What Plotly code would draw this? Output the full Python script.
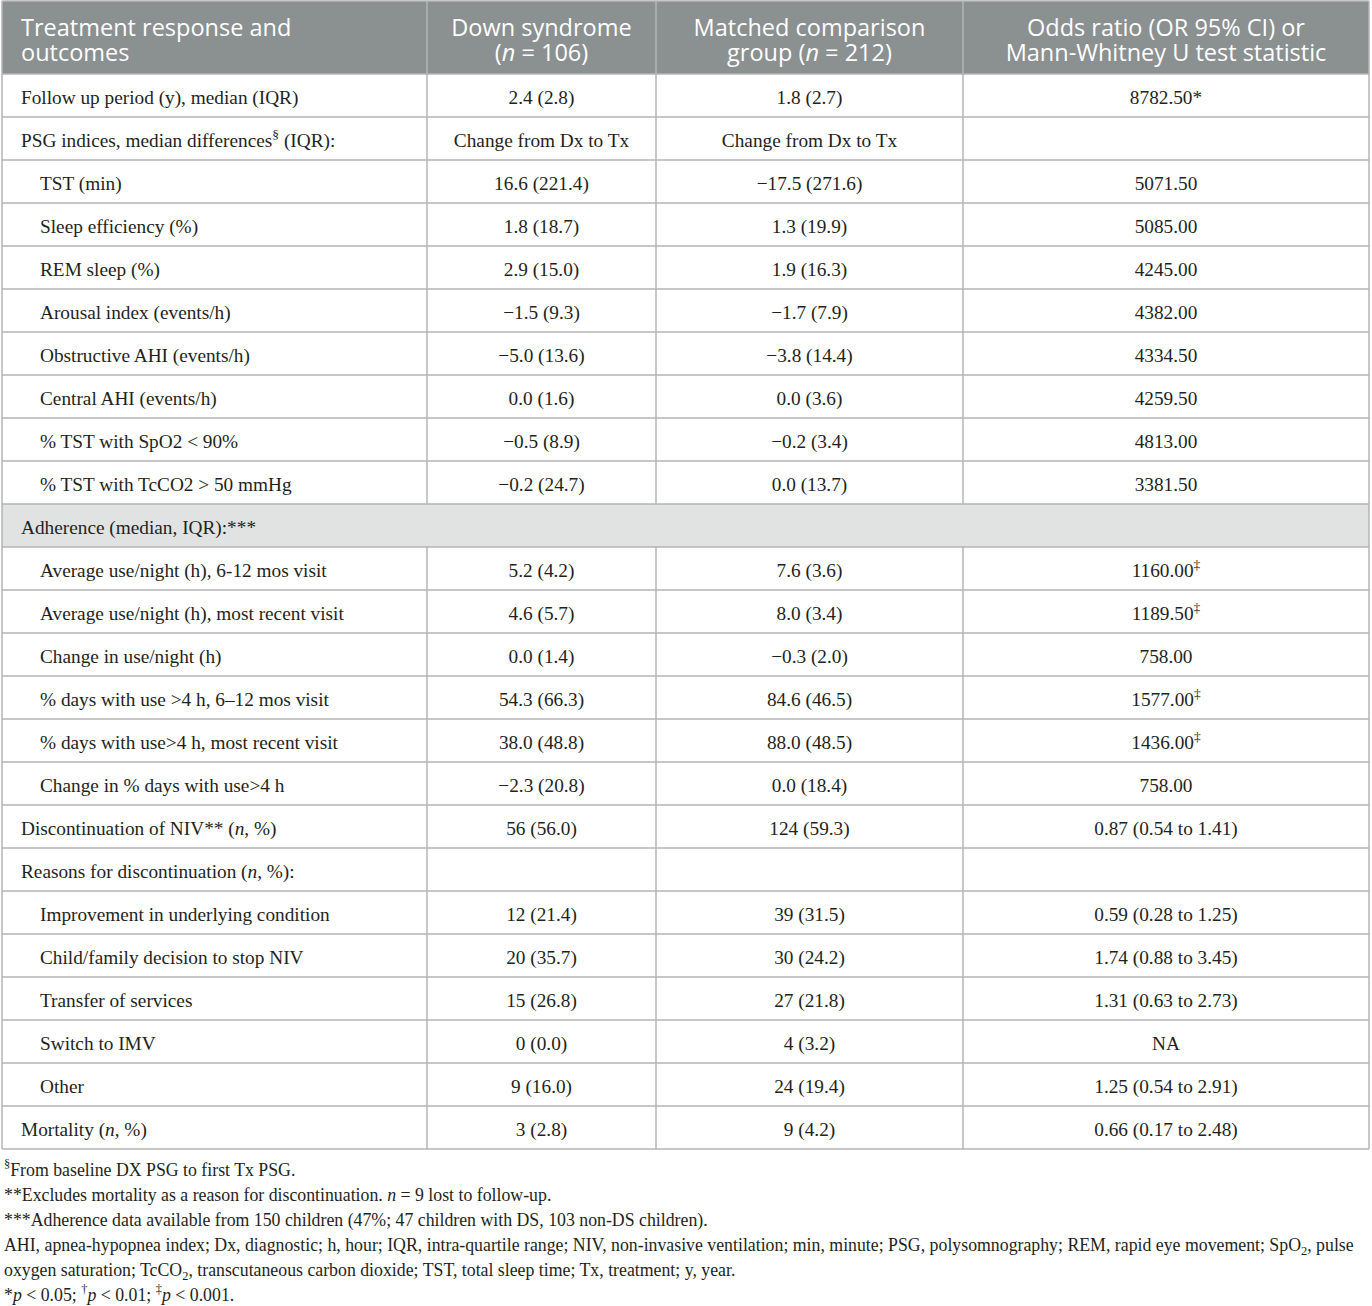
import plotly.graph_objects as go

# table content
headers = ["Treatment response and<br>outcomes",
           "Down syndrome<br>(<i>n</i> = 106)",
           "Matched comparison<br>group (<i>n</i> = 212)",
           "Odds ratio (OR 95% CI) or<br>Mann-Whitney U test statistic"]

labels = ["Follow up period (y), median (IQR)",
          "PSG indices, median differences<sup>§</sup> (IQR):",
          "TST (min)",
          "Sleep efficiency (%)",
          "REM sleep (%)",
          "Arousal index (events/h)",
          "Obstructive AHI (events/h)",
          "Central AHI (events/h)",
          "% TST with SpO2 < 90%",
          "% TST with TcCO2 > 50 mmHg",
          "Adherence (median, IQR):***",
          "Average use/night (h), 6-12 mos visit",
          "Average use/night (h), most recent visit",
          "Change in use/night (h)",
          "% days with use >4 h, 6–12 mos visit",
          "% days with use>4 h, most recent visit",
          "Change in % days with use>4 h",
          "Discontinuation of NIV** (<i>n</i>, %)",
          "Reasons for discontinuation (<i>n</i>, %):",
          "Improvement in underlying condition",
          "Child/family decision to stop NIV",
          "Transfer of services",
          "Switch to IMV",
          "Other",
          "Mortality (<i>n</i>, %)"]

levels = [0, 0, 1, 1, 1, 1, 1, 1, 1, 1, 0, 1, 1, 1, 1, 1, 1, 0, 0, 1, 1, 1, 1, 1, 0]

down_syndrome = ["2.4 (2.8)", "Change from Dx to Tx", "16.6 (221.4)", "1.8 (18.7)",
                 "2.9 (15.0)", "−1.5 (9.3)", "−5.0 (13.6)", "0.0 (1.6)",
                 "−0.5 (8.9)", "−0.2 (24.7)", "", "5.2 (4.2)", "4.6 (5.7)",
                 "0.0 (1.4)", "54.3 (66.3)", "38.0 (48.8)", "−2.3 (20.8)",
                 "56 (56.0)", "", "12 (21.4)", "20 (35.7)", "15 (26.8)",
                 "0 (0.0)", "9 (16.0)", "3 (2.8)"]

comparison = ["1.8 (2.7)", "Change from Dx to Tx", "−17.5 (271.6)", "1.3 (19.9)",
              "1.9 (16.3)", "−1.7 (7.9)", "−3.8 (14.4)", "0.0 (3.6)",
              "−0.2 (3.4)", "0.0 (13.7)", "", "7.6 (3.6)", "8.0 (3.4)",
              "−0.3 (2.0)", "84.6 (46.5)", "88.0 (48.5)", "0.0 (18.4)",
              "124 (59.3)", "", "39 (31.5)", "30 (24.2)", "27 (21.8)",
              "4 (3.2)", "24 (19.4)", "9 (4.2)"]

statistic = ["8782.50*", "", "5071.50", "5085.00", "4245.00", "4382.00",
             "4334.50", "4259.50", "4813.00", "3381.50", "",
             "1160.00<sup>‡</sup>", "1189.50<sup>‡</sup>", "758.00",
             "1577.00<sup>‡</sup>", "1436.00<sup>‡</sup>", "758.00",
             "0.87 (0.54 to 1.41)", "", "0.59 (0.28 to 1.25)", "1.74 (0.88 to 3.45)",
             "1.31 (0.63 to 2.73)", "NA", "1.25 (0.54 to 2.91)", "0.66 (0.17 to 2.48)"]

section_rows = [10]

footnotes = ["<sup>§</sup>From baseline DX PSG to first Tx PSG.",
             "**Excludes mortality as a reason for discontinuation. <i>n</i> = 9 lost to follow-up.",
             "***Adherence data available from 150 children (47%; 47 children with DS, 103 non-DS children).",
             "AHI, apnea-hypopnea index; Dx, diagnostic; h, hour; IQR, intra-quartile range; NIV, non-invasive ventilation; min, minute; PSG, polysomnography; REM, rapid eye movement; SpO<sub>2</sub>, pulse",
             "oxygen saturation; TcCO<sub>2</sub>, transcutaneous carbon dioxide; TST, total sleep time; Tx, treatment; y, year.",
             "*<i>p</i> < 0.05; <sup>†</sup><i>p</i> < 0.01; <sup>‡</sup><i>p</i> < 0.001."]

# layout (pixels)
W, H = 1372, 1306
HEADER_H = 74
HEADER_LINE_Y = [30, 55]
ROW_H = 43
TEXT_DY = 4          # nudge so glyphs sit in the visual middle of a row
COL_EDGES = [2, 427, 656, 963, 1369]
INDENT = [19, 38]
FOOT_TOP, FOOT_STEP = 1171.5, 25
HEADER_FILL = "#8b9091"
SECTION_FILL = "#e1e3e3"
LINE = "#b4b4b4"
TEXT = "#231f20"
SERIF = "Liberation Serif"
SANS = "Open Sans"

n = len(labels)
row_y = [HEADER_H + (i + 0.5) * ROW_H + TEXT_DY for i in range(n)]
bottom = HEADER_H + n * ROW_H
centers = [(COL_EDGES[k] + COL_EDGES[k + 1]) / 2 for k in range(1, 4)]


def text_trace(xs, ys, texts, pos, font):
    # skip empty cells so no blank text nodes are drawn
    keep = [i for i, t in enumerate(texts) if t]
    return go.Scatter(x=[xs[i] for i in keep], y=[ys[i] for i in keep],
                      text=[texts[i] for i in keep], mode="text",
                      textposition=pos, textfont=font, hoverinfo="skip")


fig = go.Figure()

# header text, one line at a time
head_font = dict(family=SANS, size=23.5, color="white")
head_x = [COL_EDGES[0] + INDENT[0]] + centers
for j, ly in enumerate(HEADER_LINE_Y):
    parts = [h.split("<br>")[j] for h in headers]
    fig.add_trace(text_trace(head_x[:1], [ly], parts[:1], "middle right", head_font))
    fig.add_trace(text_trace(head_x[1:], [ly] * 3, parts[1:], "middle center", head_font))

body_font = dict(family=SERIF, size=19.3, color=TEXT)

# first column
fig.add_trace(text_trace([COL_EDGES[0] + INDENT[l] for l in levels], row_y, labels,
                         "middle right", body_font))

# value columns
for cx, col in zip(centers, [down_syndrome, comparison, statistic]):
    fig.add_trace(text_trace([cx] * n, row_y, col, "middle center", body_font))

# footnotes
fig.add_trace(text_trace([4] * len(footnotes),
                         [FOOT_TOP + FOOT_STEP * i for i in range(len(footnotes))],
                         footnotes, "middle right",
                         dict(family=SERIF, size=17.8, color=TEXT)))

shapes = []
# fills
shapes.append(dict(type="rect", x0=COL_EDGES[0], x1=COL_EDGES[-1], y0=1, y1=HEADER_H,
                   fillcolor=HEADER_FILL, line_width=0, layer="below"))
for r in section_rows:
    shapes.append(dict(type="rect", x0=COL_EDGES[0], x1=COL_EDGES[-1],
                       y0=HEADER_H + r * ROW_H, y1=HEADER_H + (r + 1) * ROW_H,
                       fillcolor=SECTION_FILL, line_width=0, layer="below"))
# horizontal rules
for yy in [1, HEADER_H] + [HEADER_H + (i + 1) * ROW_H for i in range(n)]:
    shapes.append(dict(type="line", x0=COL_EDGES[0], x1=COL_EDGES[-1], y0=yy, y1=yy,
                       line=dict(color=LINE, width=1.5), layer="below"))
# vertical rules (inner ones break at the merged section rows)
for k, xx in enumerate(COL_EDGES):
    if k in (0, len(COL_EDGES) - 1):
        segs = [(1, bottom)]
    else:
        segs = []
        start = 1
        for r in section_rows:
            segs.append((start, HEADER_H + r * ROW_H))
            start = HEADER_H + (r + 1) * ROW_H
        segs.append((start, bottom))
    for y0, y1 in segs:
        shapes.append(dict(type="line", x0=xx, x1=xx, y0=y0, y1=y1,
                           line=dict(color=LINE, width=1.5), layer="below"))

fig.update_layout(width=W, height=H, margin=dict(l=0, r=0, t=0, b=0),
                  paper_bgcolor="white", plot_bgcolor="white",
                  showlegend=False, shapes=shapes,
                  xaxis=dict(range=[0, W], visible=False, fixedrange=True),
                  yaxis=dict(range=[H, 0], visible=False, fixedrange=True))

# drop the browser's default page margin so the figure sits at the corner
fig.write_html("out.html", config={"responsive": False, "displayModeBar": False},
               post_script="document.body.style.margin='0';")
